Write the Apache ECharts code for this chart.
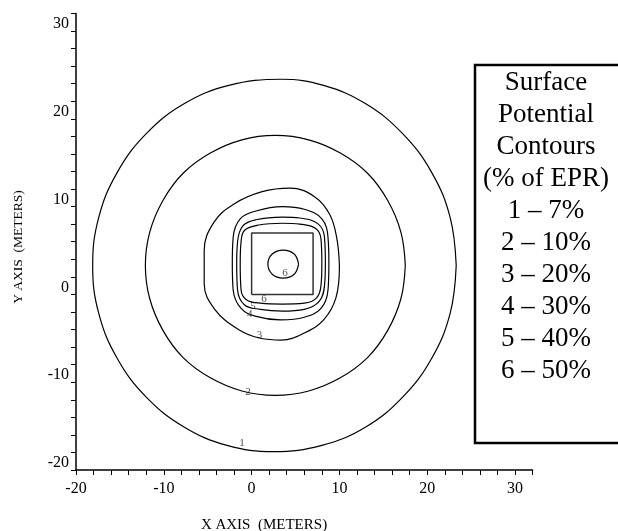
<!DOCTYPE html>
<html>
<head>
<meta charset="utf-8">
<script src="https://cdn.jsdelivr.net/npm/echarts@6/dist/echarts.min.js"></script>
<style>
html, body { margin: 0; padding: 0; background: #fff; }
#chart { width: 618px; height: 531px; }
</style>
</head>
<body>
<div id="chart"></div>
<script>
// contour lines, in meters (closed: last point = first)
var contour1 = [[23.3, 3.3], [22.6, 8.8], [20.5, 13.9], [17.2, 18.3], [13.0, 21.7], [8.2, 23.8], [3.4, 24.5], [-2.6, 23.8],
    [-7.7, 21.7], [-12.0, 18.3], [-15.3, 13.9], [-17.4, 8.8], [-18.1, 3.3], [-17.4, -2.2], [-15.3, -7.3], [-12.0, -11.7],
    [-7.7, -15.1], [-2.8, -17.2], [2.5, -17.9], [8.0, -17.2], [13.0, -15.1], [17.2, -11.7], [20.5, -7.3], [22.6, -2.2], [23.3, 3.3]];
var contour2 = [[17.5, 3.3], [17.0, 7.1], [15.5, 10.7], [13.2, 13.8], [10.1, 16.1], [6.5, 17.6], [2.7, 18.1], [-1.1, 17.6],
    [-4.7, 16.1], [-7.8, 13.8], [-10.1, 10.7], [-11.6, 7.1], [-12.1, 3.3], [-11.6, -0.5], [-10.1, -4.1], [-7.8, -7.2],
    [-4.7, -9.5], [-1.1, -11.0], [2.7, -11.5], [6.5, -11.0], [10.1, -9.5], [13.2, -7.2], [15.5, -4.1], [17.0, -0.5], [17.5, 3.3]];
var contour3 = [[10.0, 3.2], [9.7, 6.4], [8.9, 9.1], [7.2, 11.1], [4.4, 12.1], [1.2, 11.7], [-2.0, 10.3], [-4.3, 8.2], [-5.4, 5.0],
    [-5.4, 1.2], [-4.2, -1.7], [-1.5, -4.0], [1.0, -5.0], [3.4, -5.2], [6.0, -4.4], [8.2, -2.9], [9.6, -0.4], [10.0, 3.2]];
var contour4 = [[8.8, 3.5], [8.7, 6.5], [8.0, 8.6], [6.0, 9.7], [3.5, 10.0], [0.5, 9.5], [-1.3, 8.6], [-2.1, 6.5], [-2.2, 3.5],
    [-2.1, 0.5], [-1.2, -1.6], [0.5, -2.5], [3.3, -2.9], [6.0, -2.6], [7.9, -1.6], [8.7, 0.5], [8.8, 3.5]];
var contour5 = [[8.4, 3.5], [8.3, 6.5], [7.6, 8.0], [5.5, 8.7], [3.5, 8.8], [0.5, 8.5], [-1.0, 7.8], [-1.6, 6.0], [-1.7, 3.5],
    [-1.6, 0.5], [-0.8, -1.2], [1.0, -1.7], [3.5, -1.9], [6.0, -1.7], [7.7, -0.8], [8.3, 1.0], [8.4, 3.5]];
var contour6 = [[8.0, 3.5], [7.9, 6.3], [7.3, 7.5], [5.5, 8.0], [3.5, 8.1], [0.8, 7.9], [-0.8, 7.3], [-1.2, 6.0], [-1.3, 3.5],
    [-1.2, 0.5], [-0.6, -0.6], [1.0, -1.0], [3.5, -1.1], [6.0, -1.0], [7.4, -0.4], [7.9, 1.0], [8.0, 3.5]];
var contour6Inner = [[5.35, 3.45], [4.85, 4.6], [3.6, 5.05], [2.35, 4.6], [1.85, 3.45], [2.35, 2.3], [3.6, 1.85], [4.85, 2.3], [5.35, 3.45]];
var electrode = [[0, 0], [7, 0], [7, 7], [0, 7], [0, 0]];
var contourLabels = [[-1.1, -16.9, '1'], [-0.4, -11.1, '2'], [0.9, -4.6, '3'], [-0.2, -2.2, '4'], [0.15, -1.3, '5'], [1.4, -0.55, '6'], [3.8, 2.4, '6']];
var legendLines = ['Surface', 'Potential', 'Contours', '(% of EPR)', '1 \u2013 7%', '2 \u2013 10%', '3 \u2013 20%', '4 \u2013 30%', '5 \u2013 40%', '6 \u2013 50%'];

var serif = '"Liberation Serif", "Times New Roman", serif';
var chart = echarts.init(document.getElementById('chart'));

function contourLine(pts) {
    return {
        type: 'line',
        data: pts,
        smooth: 0.4,
        symbol: 'none',
        silent: true,
        lineStyle: { color: '#000', width: 1.2 }
    };
}

var axisCommon = {
    type: 'value',
    min: -20,
    max: 32,
    interval: 2,
    axisLine: { show: true, onZero: false, lineStyle: { color: '#000', width: 1.5 } },
    axisTick: { show: true, length: 5, lineStyle: { color: '#000', width: 1 } },
    splitLine: { show: false }
};

chart.setOption({
    animation: false,
    grid: { left: 76, top: 13.4, right: 85.4, bottom: 61, containLabel: false },
    xAxis: Object.assign({}, axisCommon, {
        axisLabel: {
            formatter: function (v) { return v % 10 === 0 ? v : ''; },
            fontFamily: serif, fontSize: 16, color: '#000', margin: 11
        }
    }),
    yAxis: Object.assign({}, axisCommon, {
        axisLabel: {
            formatter: function (v) { return v % 10 === 0 ? v : ''; },
            fontFamily: serif, fontSize: 16, color: '#000', margin: 7,
            verticalAlign: 'bottom', lineHeight: 14
        }
    }),
    series: [
        contourLine(contour1),
        contourLine(contour2),
        contourLine(contour3),
        contourLine(contour4),
        contourLine(contour5),
        contourLine(contour6),
        contourLine(contour6Inner),
        {
            type: 'line',
            data: electrode,
            symbol: 'none',
            silent: true,
            lineStyle: { color: '#333', width: 1.5 }
        },
        {
            type: 'scatter',
            symbolSize: 1,
            silent: true,
            itemStyle: { color: 'rgba(0,0,0,0)' },
            data: contourLabels.map(function (d) { return { value: [d[0], d[1]], name: d[2] }; }),
            label: {
                show: true, position: 'inside', formatter: '{b}',
                fontFamily: serif, fontSize: 11, color: '#222'
            }
        }
    ],
    graphic: [
        {
            type: 'rect',
            shape: { x: 475, y: 65, width: 170, height: 378 },
            style: { fill: '#fff', stroke: '#000', lineWidth: 2.5 }
        },
        {
            type: 'text',
            x: 546, y: 67,
            style: {
                text: legendLines.join('\n'),
                align: 'center', verticalAlign: 'top',
                font: '27px ' + serif, lineHeight: 32, fill: '#000'
            }
        },
        {
            type: 'text',
            x: 264, y: 525,
            style: {
                text: 'X AXIS  (METERS)', align: 'center', verticalAlign: 'middle',
                font: '15px ' + serif, fill: '#000'
            }
        },
        {
            type: 'text',
            x: 18, y: 247,
            rotation: Math.PI / 2,
            style: {
                text: 'Y AXIS  (METERS)', align: 'center', verticalAlign: 'middle',
                font: '13.5px ' + serif, fill: '#000'
            }
        }
    ]
});
</script>
</body>
</html>
